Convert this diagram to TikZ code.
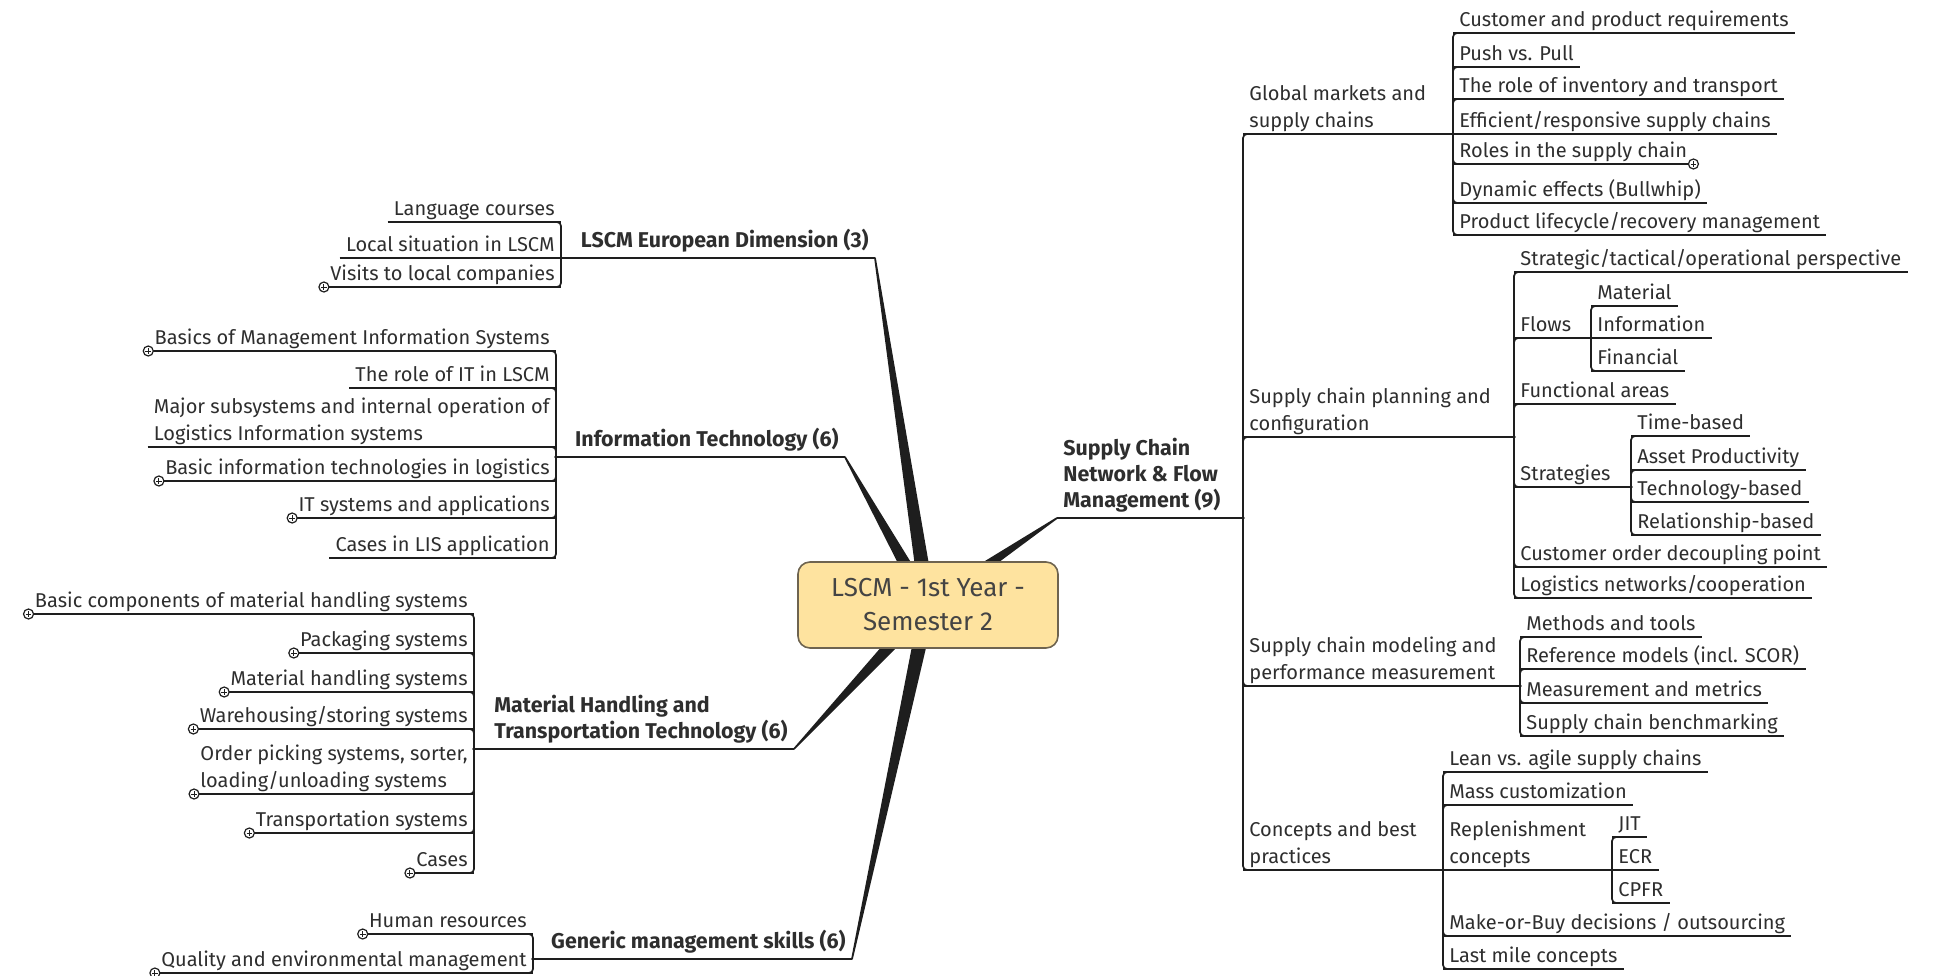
\documentclass[tikz,border=0pt]{standalone}
\usepackage{fontspec}
\setmainfont{Fira Sans}
\usetikzlibrary{calc,backgrounds}

\definecolor{ink}{HTML}{2E2E2E}
\definecolor{wire}{HTML}{1E1E1E}
\definecolor{rootfill}{HTML}{FEE39F}
\definecolor{rootedge}{HTML}{6E6450}
\definecolor{roottext}{HTML}{444444}

\newcommand\leaffont{\fontsize{10pt}{13.5pt}\selectfont}
\newcommand\branchfont{\fontsize{10.7pt}{13pt}\selectfont\bfseries}
\newcommand\centrefont{\fontsize{13pt}{17pt}\selectfont}

\tikzset{
  wireline/.style={draw=wire, line width=0.85pt},
  elbow/.style={wireline, rounded corners=2pt},
  leafR/.style={anchor=south west, inner xsep=3pt, inner ysep=0pt,
    text depth=3pt, align=left, font=\leaffont, text=ink,
    append after command={(\tikzlastnode.south west) edge[wireline] (\tikzlastnode.south east)}},
  leafL/.style={leafR, anchor=south east},
  branchR/.style={leafR, font=\branchfont, text depth=5pt},
  branchL/.style={branchR, anchor=south east},
  fold/.style={circle, draw=wire, fill=white, line width=0.6pt,
    minimum size=5pt, inner sep=0pt,
    path picture={\draw[wire, line width=0.45pt]
      ($(path picture bounding box.center)+(-1.4pt,0)$) -- ($(path picture bounding box.center)+(1.4pt,0)$)
      ($(path picture bounding box.center)+(0,-1.4pt)$) -- ($(path picture bounding box.center)+(0,1.4pt)$);}},
  hubdot/.style={fill=wire},
  taper/.style={fill=wire, draw=wire, line width=0.85pt, line join=round},
  centraltopic/.style={draw=rootedge, fill=rootfill, line width=0.8pt,
    rounded corners=6pt, minimum width=130pt, minimum height=43pt,
    align=center, font=\centrefont, text=roottext, inner sep=0pt}
}

\begin{document}
\begin{tikzpicture}[x=0.5pt, y=-0.5pt]
\useasboundingbox (0,0) rectangle (1933,975);

% ---------- central topic ----------
\node[centraltopic] (centre) at (928,605) {LSCM - 1st Year -\\Semester 2};

% ---------- main branches ----------
\node[branchR] (scn) at (1057,518) {Supply Chain\\Network \& Flow\\Management (9)};
\node[branchL] (eur) at (875,258) {LSCM European Dimension (3)};
\node[branchL] (it)  at (845,457) {Information Technology (6)};
\node[branchL] (mh)  at (794,749) {Material Handling and\\Transportation Technology (6)};
\node[branchL] (gen) at (852,959) {Generic management skills (6)};

\begin{scope}[on background layer]
  \foreach \s in {scn.south west, eur.south east, it.south east, mh.south east, gen.south east}
    \fill[taper] (\s) -- ($(centre.center)!3.5pt!90:(\s)$) -- ($(centre.center)!3.5pt!-90:(\s)$) -- cycle;
\end{scope}

% ---------- junction points ----------
\coordinate (jmain) at (1243,518);
\coordinate (jglob) at (1453,134);
\coordinate (jplan) at (1514,437);
\coordinate (jflow) at (1591,338);
\coordinate (jstrat) at (1631,487);
\coordinate (jmodel) at (1520,686);
\coordinate (jconc) at (1443,870);
\coordinate (jrep) at (1612,870);
\coordinate (jeur) at (561,258);
\coordinate (jit) at (556,457);
\coordinate (jmh) at (474,749);
\coordinate (jgen) at (533,959);

\draw[wireline] (scn.south west) -- (jmain);
\draw[wireline] (eur.south east) -- (jeur);
\draw[wireline] (it.south east) -- (jit);
\draw[wireline] (mh.south east) -- (jmh);
\draw[wireline] (gen.south east) -- (jgen);

% ---------- right side: second level ----------
\node[leafR] (glob)  at (1243,134) {Global markets and\\supply chains};
\node[leafR] (plan)  at (1243,437) {Supply chain planning and\\configuration};
\node[leafR] (model) at (1243,686) {Supply chain modeling and\\performance measurement};
\node[leafR] (conc)  at (1243,870) {Concepts and best\\practices};
\foreach \c in {glob,plan,model,conc} \draw[elbow] (jmain) |- (\c.south);
\draw[wireline] (glob.south west) -- (jglob);
\draw[wireline] (plan.south west) -- (jplan);
\draw[wireline] (model.south west) -- (jmodel);
\draw[wireline] (conc.south west) -- (jconc);

% Global markets and supply chains
\node[leafR] (g1) at (1453,33)  {Customer and product requirements};
\node[leafR] (g2) at (1453,67)  {Push vs. Pull};
\node[leafR] (g3) at (1453,99)  {The role of inventory and transport};
\node[leafR] (g4) at (1453,134) {Efficient/responsive supply chains};
\node[leafR] (g5) at (1453,164) {Roles in the supply chain};
\node[leafR] (g6) at (1453,203) {Dynamic effects (Bullwhip)};
\node[leafR] (g7) at (1453,235) {Product lifecycle/recovery management};
\foreach \c in {g1,g2,g3,g5,g6,g7} \draw[elbow] (jglob) |- (\c.south);
\node[fold] (g5m) at (g5.south east) {};

% Supply chain planning and configuration
\node[leafR] (p1) at (1514,272) {Strategic/tactical/operational perspective};
\node[leafR] (p2) at (1514,338) {Flows};
\node[leafR] (p3) at (1514,404) {Functional areas};
\node[leafR] (p4) at (1514,487) {Strategies};
\node[leafR] (p5) at (1514,567) {Customer order decoupling point};
\node[leafR] (p6) at (1514,598) {Logistics networks/cooperation};
\foreach \c in {p1,p2,p3,p4,p5,p6} \draw[elbow] (jplan) |- (\c.south);
\draw[wireline] (p2.south west) -- (jflow);
\draw[wireline] (p4.south west) -- (jstrat);

\node[leafR] (f1) at (1591,306) {Material};
\node[leafR] (f2) at (1591,338) {Information};
\node[leafR] (f3) at (1591,371) {Financial};
\foreach \c in {f1,f3} \draw[elbow] (jflow) |- (\c.south);

\node[leafR] (s1) at (1631,436) {Time-based};
\node[leafR] (s2) at (1631,470) {Asset Productivity};
\node[leafR] (s3) at (1631,502) {Technology-based};
\node[leafR] (s4) at (1631,535) {Relationship-based};
\foreach \c in {s1,s2,s3,s4} \draw[elbow] (jstrat) |- (\c.south);

% Supply chain modeling and performance measurement
\node[leafR] (m1) at (1520,637) {Methods and tools};
\node[leafR] (m2) at (1520,669) {Reference models (incl. SCOR)};
\node[leafR] (m3) at (1520,703) {Measurement and metrics};
\node[leafR] (m4) at (1520,736) {Supply chain benchmarking};
\foreach \c in {m1,m2,m3,m4} \draw[elbow] (jmodel) |- (\c.south);

% Concepts and best practices
\node[leafR] (c1) at (1443,772) {Lean vs. agile supply chains};
\node[leafR] (c2) at (1443,805) {Mass customization};
\node[leafR] (c3) at (1443,870) {Replenishment\\concepts};
\node[leafR] (c4) at (1443,936) {Make-or-Buy decisions / outsourcing};
\node[leafR] (c5) at (1443,969) {Last mile concepts};
\foreach \c in {c1,c2,c4,c5} \draw[elbow] (jconc) |- (\c.south);
\draw[wireline] (c3.south west) -- (jrep);

\node[leafR] (r1) at (1612,837) {JIT};
\node[leafR] (r2) at (1612,870) {ECR};
\node[leafR] (r3) at (1612,903) {CPFR};
\foreach \c in {r1,r3} \draw[elbow] (jrep) |- (\c.south);

% ---------- left side ----------
% LSCM European Dimension
\node[leafL] (e1) at (561,222) {Language courses};
\node[leafL] (e2) at (561,258) {Local situation in LSCM};
\node[leafL] (e3) at (561,287) {Visits to local companies};
\foreach \c in {e1,e3} \draw[elbow] (jeur) |- (\c.south);
\node[fold] (e3m) at (e3.south west) {};

% Information Technology
\node[leafL] (i1) at (556,351) {Basics of Management Information Systems};
\node[leafL] (i2) at (556,388) {The role of IT in LSCM};
\node[leafL] (i3) at (556,447) {Major subsystems and internal operation of\\Logistics Information systems};
\node[leafL] (i4) at (556,481) {Basic information technologies in logistics};
\node[leafL] (i5) at (556,518) {IT systems and applications};
\node[leafL] (i6) at (556,558) {Cases in LIS application};
\foreach \c in {i1,i2,i3,i4,i5,i6} \draw[elbow] (jit) |- (\c.south);
\foreach \c in {i1,i4,i5} \node[fold] (\c m) at (\c.south west) {};

% Material Handling and Transportation Technology
\node[leafL] (h1) at (474,614) {Basic components of material handling systems};
\node[leafL] (h2) at (474,653) {Packaging systems};
\node[leafL] (h3) at (474,692) {Material handling systems};
\node[leafL] (h4) at (474,729) {Warehousing/storing systems};
\node[leafL] (h5) at (474,794) {Order picking systems, sorter,\\loading/unloading systems};
\node[leafL] (h6) at (474,833) {Transportation systems};
\node[leafL] (h7) at (474,873) {Cases};
\foreach \c in {h1,h2,h3,h4,h5,h6,h7} \draw[elbow] (jmh) |- (\c.south);
\foreach \c in {h1,h2,h3,h4,h5,h6,h7} \node[fold] (\c m) at (\c.south west) {};

% Generic management skills
\node[leafL] (k1) at (533,934) {Human resources};
\node[leafL] (k2) at (533,973) {Quality and environmental management};
\foreach \c in {k1,k2} \draw[elbow] (jgen) |- (\c.south);
\foreach \c in {k1,k2} \node[fold] (\c m) at (\c.south west) {};

% small dots where a parent line meets its children's spine
\foreach \j in {jmain,jglob,jplan,jflow,jstrat,jmodel,jconc,jrep,jeur,jit,jmh,jgen}
  \fill[hubdot] (\j) circle (0.9pt);
\end{tikzpicture}
\end{document}
